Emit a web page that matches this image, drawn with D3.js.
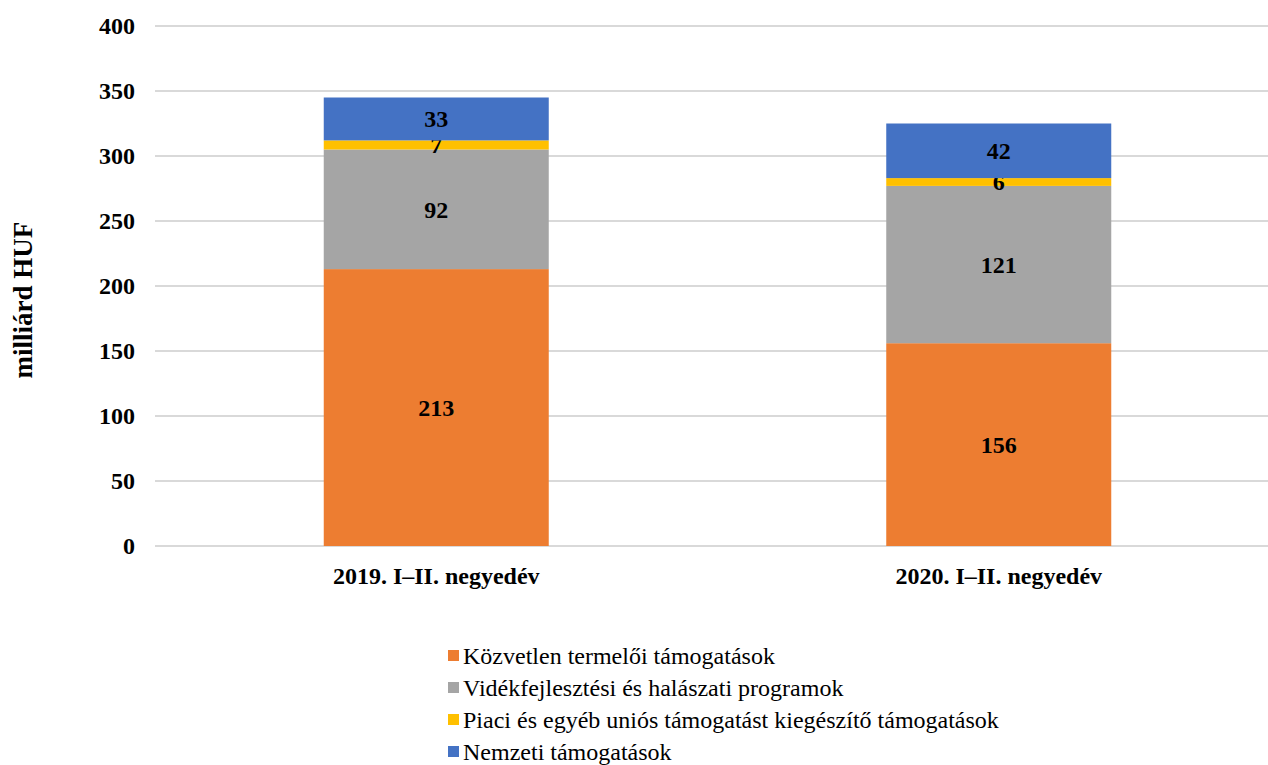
<!DOCTYPE html>
<html>
<head>
<meta charset="utf-8">
<script src="https://cdn.jsdelivr.net/npm/d3@7"></script>
<style>
  body { margin: 0; background: #fff; }
  svg { display: block; font-family: "Liberation Serif", "Times New Roman", serif; }
</style>
</head>
<body>
<svg id="chart" width="1268" height="765"></svg>
<script>
// data
const categories = ["2019. I–II. negyedév", "2020. I–II. negyedév"];
const seriesNames = [
  "Közvetlen termelői támogatások",
  "Vidékfejlesztési és halászati programok",
  "Piaci és egyéb uniós támogatást kiegészítő támogatások",
  "Nemzeti támogatások"
];
const seriesColors = ["#ed7d31", "#a5a5a5", "#ffc000", "#4472c4"];
const directValues = [213, 156];
const ruralValues = [92, 121];
const marketValues = [7, 6];
const nationalValues = [33, 42];
const yTicks = [0, 50, 100, 150, 200, 250, 300, 350, 400];

const allValues = [directValues, ruralValues, marketValues, nationalValues];
const rows = categories.map(function (c, i) {
  const r = { cat: c };
  seriesNames.forEach(function (s, k) { r[s] = allValues[k][i]; });
  return r;
});

const svg = d3.select("#chart");
const margin = { left: 155, right: -12, top: 26, bottom: 219 };
const width = 1268 - margin.left - margin.right;
const height = 765 - margin.top - margin.bottom;

const x = d3.scaleBand().domain(categories).range([0, width]).paddingInner(0.6).paddingOuter(0.3);
const y = d3.scaleLinear().domain([0, 400]).range([height, 0]);

const g = svg.append("g").attr("transform", "translate(" + margin.left + "," + margin.top + ")");

// gridlines
g.selectAll(".grid")
    .data(yTicks)
  .enter().append("line")
    .attr("x1", 0).attr("x2", width)
    .attr("y1", function (d) { return y(d); })
    .attr("y2", function (d) { return y(d); })
    .style("stroke", "#d9d9d9")
    .style("stroke-width", 2);

// y axis labels
const yAxis = d3.axisLeft(y).tickValues(yTicks).tickSize(0).tickPadding(20);
g.append("g").call(yAxis)
  .call(function (a) { a.select(".domain").remove(); })
  .selectAll("text")
    .style("font-family", "Liberation Serif, serif")
    .style("font-size", "24px")
    .style("font-weight", "bold")
    .style("fill", "#000");

// x axis labels
const xAxis = d3.axisBottom(x).tickSize(0).tickPadding(21);
g.append("g").attr("transform", "translate(0," + height + ")").call(xAxis)
  .call(function (a) { a.select(".domain").remove(); })
  .selectAll("text")
    .style("font-family", "Liberation Serif, serif")
    .style("font-size", "24px")
    .style("font-weight", "bold")
    .style("fill", "#000");

// stacked bars
const stack = d3.stack().keys(seriesNames);
const layers = stack(rows);

const layer = g.selectAll(".layer")
    .data(layers)
  .enter().append("g")
    .attr("class", "layer")
    .style("fill", function (d, i) { return seriesColors[i]; });

layer.selectAll("rect")
    .data(function (d) { return d; })
  .enter().append("rect")
    .attr("x", function (d) { return x(d.data.cat); })
    .attr("width", x.bandwidth())
    .attr("y", function (d) { return y(d[1]); })
    .attr("height", function (d) { return y(d[0]) - y(d[1]); });

layer.selectAll("text")
    .data(function (d) { return d; })
  .enter().append("text")
    .attr("x", function (d) { return x(d.data.cat) + x.bandwidth() / 2; })
    .attr("y", function (d) { return y((d[0] + d[1]) / 2); })
    .attr("dy", "0.35em")
    .attr("text-anchor", "middle")
    .style("fill", "#000")
    .style("font-size", "24px")
    .style("font-weight", "bold")
    .text(function (d) { return d[1] - d[0]; });

// y axis title
svg.append("text")
    .attr("transform", "translate(32,300) rotate(-90)")
    .attr("text-anchor", "middle")
    .style("font-size", "27px")
    .style("font-weight", "bold")
    .text("milliárd HUF");

// legend
const legend = svg.selectAll(".legend")
    .data(seriesNames)
  .enter().append("g")
    .attr("class", "legend")
    .attr("transform", function (d, i) { return "translate(448," + (656 + i * 32) + ")"; });

legend.append("rect")
    .attr("x", 0).attr("y", -6)
    .attr("width", 11).attr("height", 11)
    .style("fill", function (d, i) { return seriesColors[i]; });

legend.append("text")
    .attr("x", 15)
    .attr("dy", "0.35em")
    .style("font-size", "24px")
    .text(function (d) { return d; });
</script>
</body>
</html>
